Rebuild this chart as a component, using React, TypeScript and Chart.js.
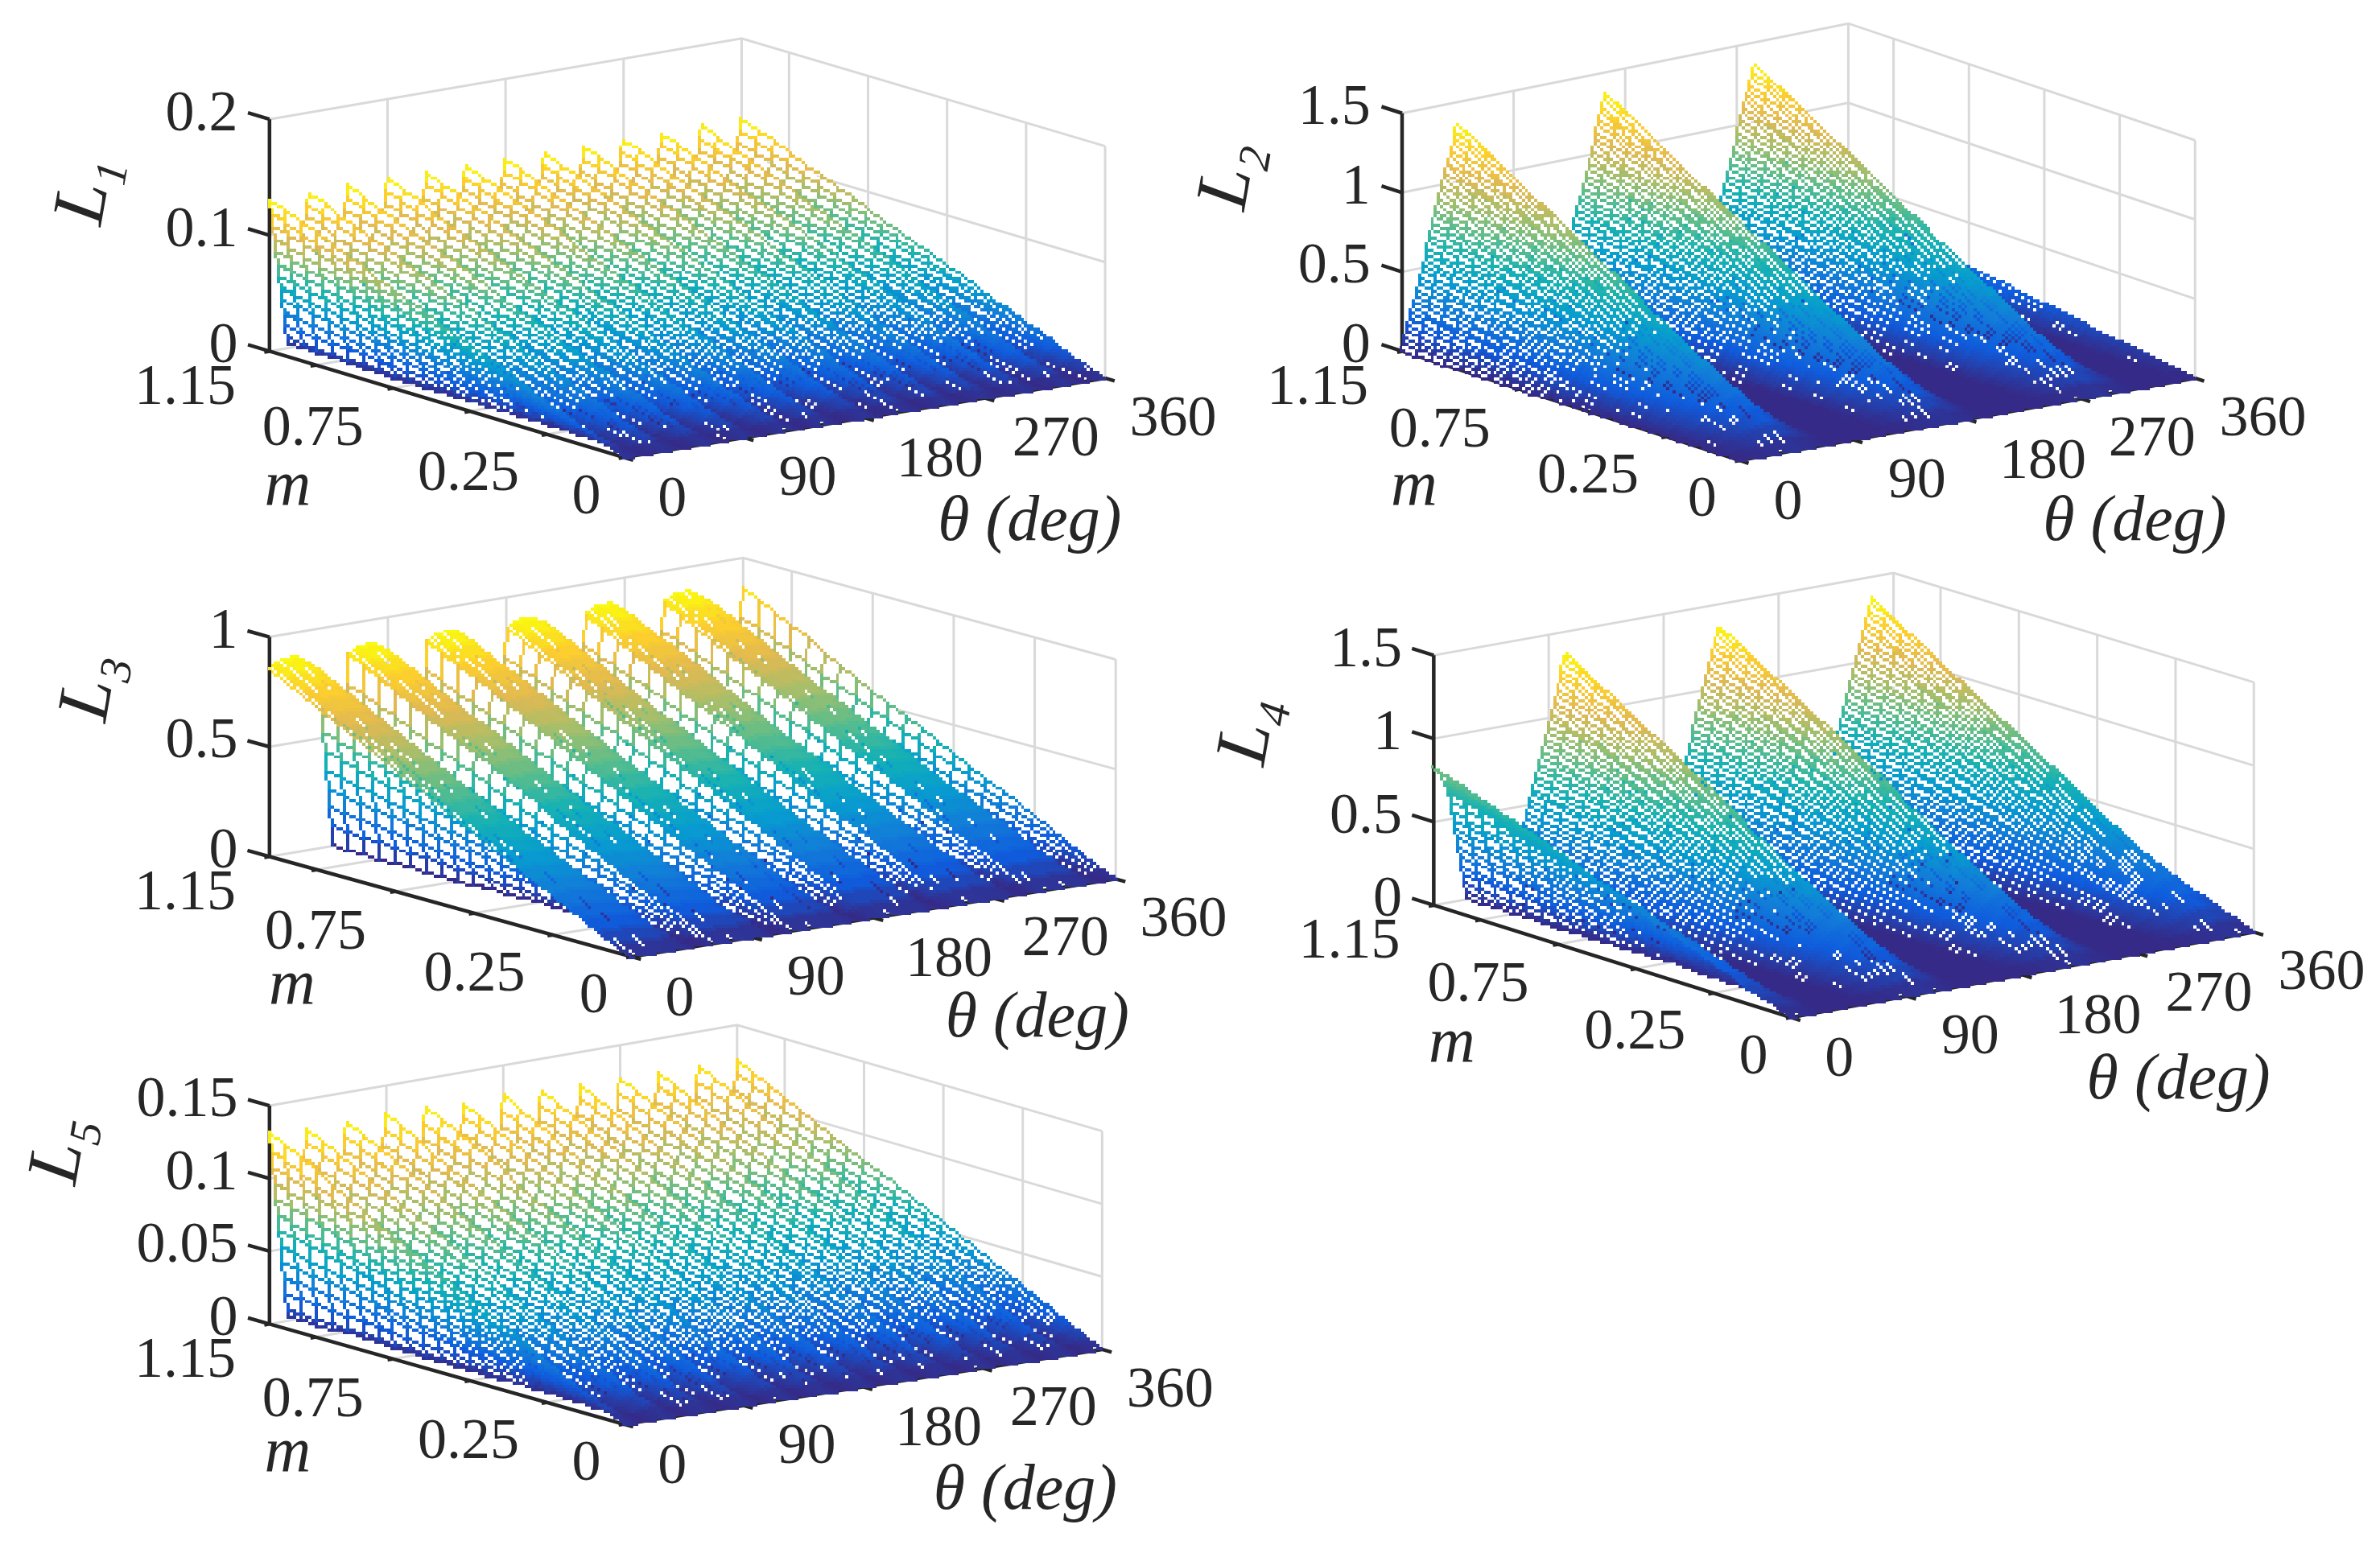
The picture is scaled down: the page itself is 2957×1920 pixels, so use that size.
import React, { useEffect, useRef } from "react";
import { Chart, LineController, registerables } from "chart.js";

// ---- values -----------------------------------------------------------
const mTicks = [0, 0.25, 0.5, 0.75, 1, 1.15];
const mTickLabels = ["0", "0.25", "", "0.75", "", "1.15"];
const thetaTicks = [0, 90, 180, 270, 360];
const thetaTickLabels = ["0", "90", "180", "270", "360"];
const mGrid = [0, 0.05, 0.1, 0.15, 0.2, 0.25, 0.3, 0.35, 0.4, 0.45, 0.5, 0.55, 0.6, 0.65, 0.7, 0.75, 0.8, 0.85, 0.9, 0.95, 1, 1.05, 1.1, 1.15];

const L1Ticks = [0, 0.1, 0.2];
const L1TickLabels = ["0", "0.1", "0.2"];
const L2Ticks = [0, 0.5, 1, 1.5];
const L2TickLabels = ["0", "0.5", "1", "1.5"];
const L3Ticks = [0, 0.5, 1];
const L3TickLabels = ["0", "0.5", "1"];
const L4Ticks = [0, 0.5, 1, 1.5];
const L4TickLabels = ["0", "0.5", "1", "1.5"];
const L5Ticks = [0, 0.05, 0.1, 0.15];
const L5TickLabels = ["0", "0.05", "0.1", "0.15"];

// Ridge profile of each surface along the m = 1.15 edge (theta in degrees, L value)
const L1Theta = [0, 14, 30, 44, 60, 74, 90, 104, 120, 134, 150, 164, 180, 194, 210, 224, 240, 254, 270, 284, 300, 314, 330, 344, 360];
const L1Values = [0.131, 0, 0.131, 0, 0.131, 0, 0.131, 0, 0.131, 0, 0.131, 0, 0.131, 0, 0.13, 0, 0.13, 0, 0.13, 0, 0.13, 0, 0.13, 0, 0.13];
const L2Theta = [0, 45, 75, 120, 165, 195, 240, 285, 315, 346, 360];
const L2Values = [0, 1.38, 0, 0, 1.38, 0, 0, 1.38, 0, 0, 0.34];
const L3Theta = [0, 8, 19, 30, 38, 40, 48, 52, 60, 68, 79, 90, 98, 100, 108, 112, 120, 128, 139, 150, 158, 160, 168, 172, 180, 188, 199, 210, 218, 220, 228, 232, 240, 248, 259, 270, 278, 280, 288, 292, 300, 308, 319, 330, 338, 340, 348, 352, 360];
const L3Values = [0.86, 0.885, 0.89, 0.85, 0.76, 0.58, 0, 0, 0.86, 0.885, 0.89, 0.85, 0.76, 0.58, 0, 0, 0.86, 0.885, 0.89, 0.85, 0.76, 0.58, 0, 0, 0.86, 0.885, 0.89, 0.85, 0.76, 0.58, 0, 0, 0.86, 0.885, 0.89, 0.85, 0.76, 0.58, 0, 0, 0.86, 0.885, 0.89, 0.85, 0.76, 0.58, 0, 0, 0.86];
const L4Theta = [0, 6, 12, 26, 58, 104, 133, 178, 224, 253, 298, 343, 360];
const L4Values = [0.83, 0.78, 0.66, 0, 0, 1.38, 0, 0, 1.38, 0, 0, 1.38, 0.83];
const L5Theta = L1Theta;
const L5Values = [0.131, 0, 0.13, 0, 0.13, 0, 0.13, 0, 0.13, 0, 0.129, 0, 0.129, 0, 0.128, 0, 0.128, 0, 0.127, 0, 0.127, 0, 0.126, 0, 0.126];

// ---- layout -----------------------------------------------------------
const K = 2957 / 1568;
const FONT = '"Liberation Serif", "Times New Roman", serif';
const INK = "#262626";
const PARULA = [[53, 42, 135], [15, 92, 221], [18, 125, 216], [7, 156, 207], [21, 177, 180], [89, 189, 140], [165, 190, 107], [225, 185, 82], [252, 206, 46], [249, 251, 14]];
const CELL = 3.9;
const MESH_STEP = 1.2;
const M_MAX = 1.15;

const mLabelOffset = [[-25, 27], [-52, 27], [0, 0], [-53, 28], [0, 0], [-56, 25]];
const thetaLabelOffset = [[32, 29], [42, 28], [50, 29], [47, 28], [45, 28]];

const panels = [
  { name: "1", box: [0, 0, 1600, 720], O: [411, 303], T: [730, 250], M: [176, 232], B: [489, 178], zh: 155, zMax: 0.2, ticks: L1Ticks, labels: L1TickLabels, theta: L1Theta, values: L1Values, mPos: [188, 323], tPos: [680, 347], lPos: [52, 125] },
  { name: "2", box: [1480, 0, 1477, 720], O: [1146, 305], T: [1448, 250], M: [922, 232], B: [1218, 172], zh: 159, zMax: 1.5, ticks: L2Ticks, labels: L2TickLabels, theta: L2Theta, values: L2Values, mPos: [930, 323], tPos: [1408, 347], lPos: [805, 115] },
  { name: "3", box: [0, 680, 1600, 640], O: [416, 632], T: [737, 580], M: [176, 565], B: [490, 512], zh: 147, zMax: 1, ticks: L3Ticks, labels: L3TickLabels, theta: L3Theta, values: L3Values, mPos: [191, 652], tPos: [685, 674], lPos: [55, 452] },
  { name: "4", box: [1480, 700, 1477, 720], O: [1180, 672], T: [1487, 615], M: [943, 597], B: [1248, 542], zh: 167, zMax: 1.5, ticks: L4Ticks, labels: L4TickLabels, theta: L4Theta, values: L4Values, mPos: [955, 690], tPos: [1437, 715], lPos: [818, 481] },
  { name: "5", box: [0, 1240, 1600, 680], O: [411, 940], T: [728, 890], M: [176, 873], B: [486, 819], zh: 146, zMax: 0.15, ticks: L5Ticks, labels: L5TickLabels, theta: L5Theta, values: L5Values, mPos: [188, 960], tPos: [677, 985], lPos: [35, 757] },
];

// Oblique view of the (theta, m, L) box, onto the chart's x / y plane
function projector(p: any) {
  return (theta: number, m: number, z: number) => {
    const u = theta / 360;
    const w = m / M_MAX;
    const f = (a: number) =>
      (1 - u) * (1 - w) * p.O[a] + u * (1 - w) * p.T[a] + (1 - u) * w * p.M[a] + u * w * p.B[a];
    return { x: f(0) * K, y: (f(1) - (z / p.zMax) * p.zh) * K };
  };
}

function profileAt(thetas: number[], values: number[], t: number) {
  for (let i = 1; i < thetas.length; i++) {
    if (t <= thetas[i]) {
      const r = (t - thetas[i - 1]) / (thetas[i] - thetas[i - 1]);
      return values[i - 1] + r * (values[i] - values[i - 1]);
    }
  }
  return values[values.length - 1];
}

function parula(v: number) {
  const s = Math.max(0, Math.min(1, v)) * (PARULA.length - 1);
  const i = Math.min(PARULA.length - 2, Math.floor(s));
  const r = s - i;
  const c = [0, 1, 2].map((k) => Math.round(PARULA[i][k] + r * (PARULA[i + 1][k] - PARULA[i][k])));
  return (0xff000000 | (c[2] << 16) | (c[1] << 8) | c[0]) >>> 0;
}

// Dataset type that draws a white-faced mesh surface, back to front, on a coarse pixel lattice.
// Its data are the profile values; the mesh between them is tessellated here.
class SurfaceController extends LineController {
  static id = "surface";
  static defaults = { ...LineController.defaults };
  draw() {
    const ds: any = this.getDataset();
    const chart: any = this.chart;
    const { x: sx, y: sy } = chart.scales;
    const area = chart.chartArea;
    const W = Math.ceil((area.right - area.left) / CELL);
    const H = Math.ceil((area.bottom - area.top) / CELL);
    const img = new ImageData(W, H);
    const buf = new Uint32Array(img.data.buffer);
    const WHITE = 0xffffffff;

    const thetas: number[] = [];
    const count = Math.round(360 / MESH_STEP);
    for (let i = 0; i <= count; i++) thetas.push((i * 360) / count);
    const top = Math.max(...ds.values);
    const gx: number[][] = [], gy: number[][] = [], gz: number[][] = [];
    thetas.forEach((t, i) => {
      const base = profileAt(ds.theta, ds.values, t);
      gx[i] = []; gy[i] = []; gz[i] = [];
      ds.mGrid.forEach((m: number, j: number) => {
        const z = (base * m) / M_MAX;
        const q = ds.project(t, m, z);
        gx[i][j] = (sx.getPixelForValue(q.x) - area.left) / CELL;
        gy[i][j] = (sy.getPixelForValue(q.y) - area.top) / CELL;
        gz[i][j] = z / top;
      });
    });

    const put = (x: number, y: number, c: number) => {
      if (x >= 0 && y >= 0 && x < W && y < H) buf[y * W + x] = c;
    };
    const line = (x0: number, y0: number, x1: number, y1: number, c: number) => {
      let ax = Math.floor(x0), ay = Math.floor(y0);
      const bx = Math.floor(x1), by = Math.floor(y1);
      const dx = Math.abs(bx - ax), dy = -Math.abs(by - ay);
      const stepX = ax < bx ? 1 : -1, stepY = ay < by ? 1 : -1;
      let err = dx + dy;
      for (;;) {
        put(ax, ay, c);
        if (ax === bx && ay === by) break;
        const e2 = 2 * err;
        if (e2 >= dy) { err += dy; ax += stepX; }
        if (e2 <= dx) { err += dx; ay += stepY; }
      }
    };
    // Faces thinner than a few lattice cells stay solid; bigger ones hide what lies behind them
    const quad = (xs: number[], ys: number[]) => {
      let doubled = 0;
      for (let e = 0; e < 4; e++) {
        const n = (e + 1) % 4;
        doubled += xs[e] * ys[n] - xs[n] * ys[e];
      }
      const faceArea = Math.abs(doubled) / 2;
      if (faceArea < 3) return;
      const erode = faceArea > 6 ? 0.15 : 0.35;
      const x0 = Math.max(0, Math.floor(Math.min(...xs)));
      const x1 = Math.min(W - 1, Math.ceil(Math.max(...xs)));
      const y0 = Math.max(0, Math.floor(Math.min(...ys)));
      const y1 = Math.min(H - 1, Math.ceil(Math.max(...ys)));
      const inside = (px: number, py: number) => {
        let pos = false, neg = false;
        for (let e = 0; e < 4; e++) {
          const n = (e + 1) % 4;
          const c = (xs[n] - xs[e]) * (py - ys[e]) - (ys[n] - ys[e]) * (px - xs[e]);
          if (c > 0) pos = true;
          if (c < 0) neg = true;
        }
        return !(pos && neg);
      };
      for (let y = y0; y <= y1; y++) {
        for (let x = x0; x <= x1; x++) {
          const cx = x + 0.5, cy = y + 0.5;
          if (
            inside(cx - erode, cy - erode) && inside(cx + erode, cy - erode) &&
            inside(cx - erode, cy + erode) && inside(cx + erode, cy + erode)
          ) put(x, y, WHITE);
        }
      }
    };

    const nM = ds.mGrid.length;
    for (let i = thetas.length - 2; i >= 0; i--) {
      for (let j = nM - 2; j >= 0; j--) {
        const xs = [gx[i][j], gx[i + 1][j], gx[i + 1][j + 1], gx[i][j + 1]];
        const ys = [gy[i][j], gy[i + 1][j], gy[i + 1][j + 1], gy[i][j + 1]];
        const zs = [gz[i][j], gz[i + 1][j], gz[i + 1][j + 1], gz[i][j + 1]];
        quad(xs, ys);
        for (let e = 0; e < 4; e++) {
          const n = (e + 1) % 4;
          line(xs[e], ys[e], xs[n], ys[n], parula((zs[e] + zs[n]) / 2));
        }
      }
    }

    const off = document.createElement("canvas");
    off.width = W;
    off.height = H;
    off.getContext("2d")!.putImageData(img, 0, 0);
    const ctx = chart.ctx;
    ctx.save();
    ctx.imageSmoothingEnabled = false;
    ctx.drawImage(off, area.left, area.top, W * CELL, H * CELL);
    ctx.restore();
  }
}

Chart.register(...registerables, SurfaceController);

function polylines(list: { x: number; y: number }[][]) {
  const out: { x: number; y: number }[] = [];
  list.forEach((l) => {
    out.push(...l);
    out.push({ x: NaN, y: NaN });
  });
  return out;
}

function buildChart(canvas: HTMLCanvasElement, p: any) {
  const project = projector(p);
  const grid: { x: number; y: number }[][] = [];
  thetaTicks.forEach((t) => {
    grid.push([project(t, 0, 0), project(t, M_MAX, 0), project(t, M_MAX, p.zMax)]);
  });
  mTicks.forEach((m) => {
    grid.push([project(0, m, 0), project(360, m, 0), project(360, m, p.zMax)]);
  });
  p.ticks.forEach((z: number) => {
    grid.push([project(0, M_MAX, z), project(360, M_MAX, z), project(360, 0, z)]);
  });
  const axes = [
    [project(0, M_MAX, 0), project(0, M_MAX, p.zMax)],
    [project(0, M_MAX, 0), project(0, 0, 0), project(360, 0, 0)],
  ];
  const tickMarks: { x: number; y: number }[][] = [];
  p.ticks.forEach((z: number) => tickMarks.push([project(0, M_MAX, z), project(0, M_MAX + 0.07, z)]));
  mTicks.forEach((m) => tickMarks.push([project(0, m, 0), project(-4, m, 0)]));
  thetaTicks.forEach((t) => tickMarks.push([project(t, 0, 0), project(t, -0.03, 0)]));

  const texts = {
    id: "panelText",
    afterDraw(chart: any) {
      const { ctx, scales } = chart;
      const X = (v: number) => scales.x.getPixelForValue(v);
      const Y = (v: number) => scales.y.getPixelForValue(v);
      const put = (s: string, x: number, y: number, font: string, align: CanvasTextAlign = "center") => {
        ctx.font = font;
        ctx.textAlign = align;
        ctx.textBaseline = "middle";
        ctx.fillStyle = INK;
        ctx.fillText(s, X(x), Y(y));
      };
      ctx.save();
      const face = `72px ${FONT}`;
      const italic = `italic 80px ${FONT}`;
      p.labels.forEach((s: string, i: number) => {
        const q = project(0, M_MAX, p.ticks[i]);
        put(s, q.x - 21 * K, q.y - 3 * K, face, "right");
      });
      mTickLabels.forEach((s, i) => {
        if (!s) return;
        const q = project(0, mTicks[i], 0);
        put(s, q.x + mLabelOffset[i][0] * K, q.y + mLabelOffset[i][1] * K, face);
      });
      thetaTickLabels.forEach((s, i) => {
        const q = project(thetaTicks[i], 0, 0);
        put(s, q.x + thetaLabelOffset[i][0] * K, q.y + thetaLabelOffset[i][1] * K, face);
      });
      put("m", p.mPos[0] * K, p.mPos[1] * K, italic);
      put("θ (deg)", p.tPos[0] * K, p.tPos[1] * K, italic);
      ctx.save();
      ctx.translate(X(p.lPos[0] * K), Y(p.lPos[1] * K));
      ctx.rotate((-80 * Math.PI) / 180);
      ctx.fillStyle = INK;
      ctx.textBaseline = "alphabetic";
      ctx.textAlign = "left";
      ctx.font = `italic 92px ${FONT}`;
      ctx.fillText("L", -40, 30);
      ctx.font = `italic 56px ${FONT}`;
      ctx.fillText(p.name, 14, 50);
      ctx.restore();
      ctx.restore();
    },
  };

  const line = (data: any[], color: string, width: number, order: number) => ({
    type: "scatter" as const,
    data,
    showLine: true,
    borderColor: color,
    borderWidth: width,
    pointRadius: 0,
    tension: 0,
    spanGaps: false,
    order,
  });

  return new Chart(canvas, {
    type: "scatter",
    data: {
      datasets: [
        line(polylines(grid), "#d9d9d9", 3, 3),
        line(polylines(axes), INK, 4.5, 2),
        line(polylines(tickMarks), INK, 4.5, 2),
        {
          type: "surface",
          label: `L${p.name}`,
          data: p.theta.map((t: number, i: number) => project(t, M_MAX, p.values[i])),
          theta: p.theta,
          values: p.values,
          mGrid,
          project,
          order: 1,
        } as any,
      ],
    },
    options: {
      animation: false,
      responsive: false,
      devicePixelRatio: 1,
      events: [],
      layout: { padding: 0 },
      plugins: { legend: { display: false }, tooltip: { enabled: false } },
      scales: {
        x: { type: "linear", display: false, min: p.box[0], max: p.box[0] + p.box[2] },
        y: { type: "linear", display: false, reverse: true, min: p.box[1], max: p.box[1] + p.box[3] },
      },
    },
    plugins: [texts],
  });
}

export default function App() {
  const refs = useRef<(HTMLCanvasElement | null)[]>([]);
  useEffect(() => {
    const charts = panels.map((p, i) => buildChart(refs.current[i]!, p));
    return () => charts.forEach((c) => c.destroy());
  }, []);
  return (
    <div style={{ position: "absolute", left: 0, top: 0, width: 2957, height: 1920, background: "#fff", overflow: "hidden" }}>
      {panels.map((p, i) => (
        <canvas
          key={p.name}
          ref={(el) => { refs.current[i] = el; }}
          width={p.box[2]}
          height={p.box[3]}
          style={{ position: "absolute", left: p.box[0], top: p.box[1], width: p.box[2], height: p.box[3] }}
        />
      ))}
    </div>
  );
}
